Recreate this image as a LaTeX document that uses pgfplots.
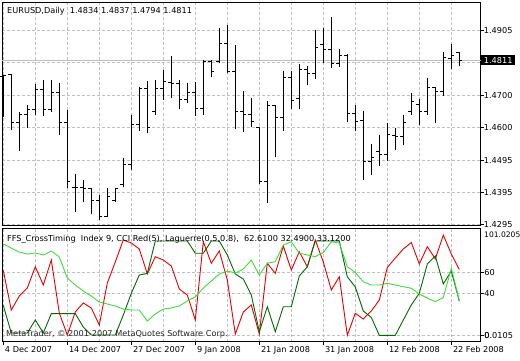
\documentclass[border=0pt]{standalone}
\usepackage{pgfplots}
\pgfplotsset{compat=1.18}
\usepackage{pgfplotstable}
\usepackage{fontspec}
\setmainfont{DejaVu Sans}
\newcommand{\fs}{\fontsize{8.2}{9}\selectfont}
\definecolor{cred}{RGB}{230,0,0}
\definecolor{cdg}{RGB}{0,105,0}
\definecolor{clg}{RGB}{60,220,60}
\definecolor{cgrid}{RGB}{192,192,192}
\pgfdeclareplotmark{otick}{\pgfpathmoveto{\pgfqpoint{-3bp}{0pt}}\pgfpathlineto{\pgfqpoint{0.5bp}{0pt}}\pgfusepathqstroke}
\pgfdeclareplotmark{ctick}{\pgfpathmoveto{\pgfqpoint{-0.5bp}{0pt}}\pgfpathlineto{\pgfqpoint{3bp}{0pt}}\pgfusepathqstroke}

\pgfplotstableread{
i O H L C
0 1.4761 1.4765 1.4632 1.4763
1 1.4765 1.4765 1.4592 1.4616
2 1.4616 1.4649 1.4526 1.4639
3 1.4639 1.4670 1.4597 1.4657
4 1.4657 1.4735 1.4639 1.4720
5 1.4720 1.4749 1.4636 1.4657
6 1.4657 1.4749 1.4649 1.4710
7 1.4710 1.4738 1.4576 1.4616
8 1.4616 1.4654 1.4408 1.4429
9 1.4410 1.4453 1.4333 1.4410
10 1.4410 1.4434 1.4366 1.4408
11 1.4408 1.4408 1.4326 1.4371
12 1.4371 1.4387 1.4309 1.4319
13 1.4319 1.4408 1.4319 1.4382
14 1.4371 1.4410 1.4366 1.4408
15 1.4419 1.4503 1.4413 1.4482
16 1.4484 1.4639 1.4466 1.4610
17 1.4610 1.4726 1.4589 1.4723
18 1.4723 1.4747 1.4581 1.4600
19 1.4649 1.4749 1.4639 1.4723
20 1.4723 1.4780 1.4686 1.4744
21 1.4740 1.4824 1.4693 1.4738
22 1.4738 1.4749 1.4657 1.4686
23 1.4686 1.4740 1.4676 1.4709
24 1.4709 1.4744 1.4637 1.4660
25 1.4660 1.4812 1.4639 1.4806
26 1.4806 1.4812 1.4759 1.4777
27 1.4806 1.4911 1.4801 1.4864
28 1.4864 1.4922 1.4772 1.4777
29 1.4775 1.4859 1.4594 1.4651
30 1.4651 1.4715 1.4586 1.4641
31 1.4641 1.4693 1.4600 1.4618
32 1.4600 1.4600 1.4421 1.4429
33 1.4429 1.4683 1.4363 1.4668
34 1.4668 1.4670 1.4508 1.4630
35 1.4630 1.4777 1.4589 1.4757
36 1.4757 1.4777 1.4657 1.4683
37 1.4691 1.4798 1.4657 1.4783
38 1.4783 1.4793 1.4733 1.4768
39 1.4768 1.4906 1.4752 1.4852
40 1.4859 1.4911 1.4801 1.4845
41 1.4845 1.4946 1.4786 1.4801
42 1.4801 1.4845 1.4791 1.4827
43 1.4825 1.4830 1.4616 1.4644
44 1.4644 1.4670 1.4589 1.4618
45 1.4623 1.4651 1.4434 1.4494
46 1.4494 1.4548 1.4450 1.4504
47 1.4523 1.4576 1.4479 1.4515
48 1.4515 1.4613 1.4495 1.4576
49 1.4574 1.4599 1.4529 1.4571
50 1.4571 1.4639 1.4544 1.4616
51 1.4651 1.4707 1.4639 1.4682
52 1.4672 1.4689 1.4607 1.4651
53 1.4651 1.4754 1.4639 1.4726
54 1.4726 1.4726 1.4613 1.4712
55 1.4714 1.4838 1.4699 1.4820
56 1.4817 1.4862 1.4783 1.4827
57 1.4834 1.4837 1.4794 1.4811
}\bars

\pgfplotstableread{
i R D G
0 61.7 28.4 87.0
1 24.1 2.2 83.1
2 37.4 2.2 79.3
3 45.0 2.2 77.4
4 65.3 14.6 78.4
5 47.9 2.2 76.5
6 71.7 20.6 80.3
7 21.2 20.6 74.6
8 0.3 20.6 54.6
9 22.2 20.6 47.9
10 30.8 7.9 42.2
11 26.0 0.3 37.4
12 9.8 0.3 31.7
13 49.8 0.3 29.8
14 69.8 0.3 27.9
15 90.8 19.3 25.0
16 87.9 40.0 24.1
17 82.2 57.4 24.1
18 58.4 59.0 13.6
19 74.9 89.8 20.3
20 71.7 89.8 25.0
21 66.0 89.8 26.0
22 44.1 89.8 27.9
23 38.4 89.8 32.7
24 14.6 78.1 36.5
25 89.1 78.1 45.0
26 68.6 89.8 51.7
27 80.3 89.8 58.4
28 52.7 76.5 61.2
29 1.2 58.4 59.3
30 22.2 53.6 63.1
31 28.9 38.4 71.7
32 1.2 3.4 57.4
33 68.6 27.2 68.6
34 59.0 3.4 70.1
35 85.0 27.2 86.0
36 62.2 27.2 89.1
37 79.6 56.5 78.1
38 65.3 65.3 76.5
39 90.8 89.8 74.9
40 69.8 89.8 78.9
41 43.1 89.8 89.1
42 55.8 89.8 87.9
43 0.0 55.8 65.3
44 21.0 46.0 59.8
45 15.5 23.1 51.0
46 23.1 17.0 47.9
47 33.6 0.0 47.9
48 64.6 0.0 49.5
49 73.6 0.0 47.9
50 82.2 14.6 46.3
51 88.4 28.9 44.8
52 67.9 40.0 39.3
53 84.4 67.9 35.5
54 72.7 75.5 32.0
55 95.5 48.9 36.0
56 77.4 61.2 63.8
57 62.61 32.49 33.12
}\ind

\begin{document}
\begin{tikzpicture}[x=1bp,y=1bp]
\fill[white] (0,0) rectangle (520,360);
\useasboundingbox (0,0) rectangle (520,360);

\begin{scope}[shift={(2bp,134.5bp)}]
\begin{axis}[
  at={(0pt,0pt)}, anchor=south west, scale only axis,
  width=478.7bp, height=223.5bp,
  xmin=-0.1625, xmax=59.675, ymin=1.42912, ymax=1.49941,
  axis line style={black, line width=0.9bp},
  xtick={0,4,...,56}, xticklabels={}, xtick style={draw=none},
  ytick={1.4295,1.4395,1.4495,1.4600,1.4700,1.4803,1.4905},
  yticklabels={1.4295,1.4395,1.4495,1.4600,1.4700,,1.4905},
  ytick pos=right, tick align=outside, major tick length=3bp,
  ytick style={black, line width=0.8bp},
  yticklabel style={anchor=west, inner sep=0pt, font=\fs},
  grid=major, major grid style={cgrid, dash pattern=on 3bp off 2bp, line width=0.8bp},
  clip mode=individual,
  extra y ticks={1.4811}, extra y tick labels={1.4811},
  extra y tick style={major grid style={solid, cgrid, line width=0.9bp},
    yticklabel style={fill=black, text=white, inner xsep=2.5bp, inner ysep=1.8bp, xshift=-2.5bp}},
]
\addplot[draw=none, mark=none, forget plot,
  error bars/.cd, y dir=plus, y explicit, error mark=none,
  error bar style={draw=black, line width=1bp}]
  table[x=i, y=L, y error plus expr=\thisrow{H}-\thisrow{L}] {\bars};
\addplot[black, only marks, mark=otick, mark options={line width=1bp}] table[x=i, y=O] {\bars};
\addplot[black, only marks, mark=ctick, mark options={line width=1bp}] table[x=i, y=C] {\bars};
\end{axis}
\end{scope}

\begin{scope}[shift={(2bp,18.3bp)}]
\begin{axis}[
  at={(0pt,0pt)}, anchor=south west, scale only axis,
  width=478.7bp, height=113.7bp,
  xmin=-0.1625, xmax=59.675, ymin=-6.1, ymax=102.19,
  axis line style={black, line width=0.9bp},
  xtick={0,8,...,56}, minor xtick={4,12,...,52},
  xticklabels={4 Dec 2007,14 Dec 2007,27 Dec 2007,9 Jan 2008,21 Jan 2008,31 Jan 2008,12 Feb 2008,22 Feb 2008},
  xtick pos=left, ytick pos=right, tick align=outside,
  major tick length=3.5bp, minor tick length=0pt,
  tick style={black, line width=0.8bp},
  xticklabel style={anchor=north west, inner sep=0pt, xshift=1.5bp, yshift=-1bp, font=\fs},
  ytick={0,40,60}, yticklabels={\rlap{0}0.0105,40,60},
  yticklabel style={anchor=west, inner sep=0pt, font=\fs},
  grid=both, major grid style={cgrid, dash pattern=on 3bp off 2bp, line width=0.8bp},
  minor grid style={cgrid, dash pattern=on 3bp off 2bp, line width=0.8bp},
  clip mode=individual,
]
\addplot[cred, line width=0.9bp, mark=none] table[x=i, y=R] {\ind};
\addplot[cdg, line width=0.9bp, mark=none] table[x=i, y=D] {\ind};
\addplot[clg, line width=0.9bp, mark=none] table[x=i, y=G] {\ind};
\end{axis}
\end{scope}

\node[anchor=west, inner sep=0pt, font=\fs] at (7,348.5) {EURUSD,Daily~~1.4834 1.4837 1.4794 1.4811};
\node[anchor=west, inner sep=0pt, font=\fs] at (7,121) {FFS\_CrossTiming~~Index 9, CCI Red(5), Laguerre(0.5,0.8),~~62.6100 32.4900 33.1200};
\node[anchor=west, inner sep=0pt, font=\fs, text=black!85] at (6,26) {MetaTrader, © 2001-2007 MetaQuotes Software Corp.};
\node[anchor=west, inner sep=0pt, font=\fontsize{7.6}{9}\selectfont] at (484,125) {101.0205};
\end{tikzpicture}
\end{document}
